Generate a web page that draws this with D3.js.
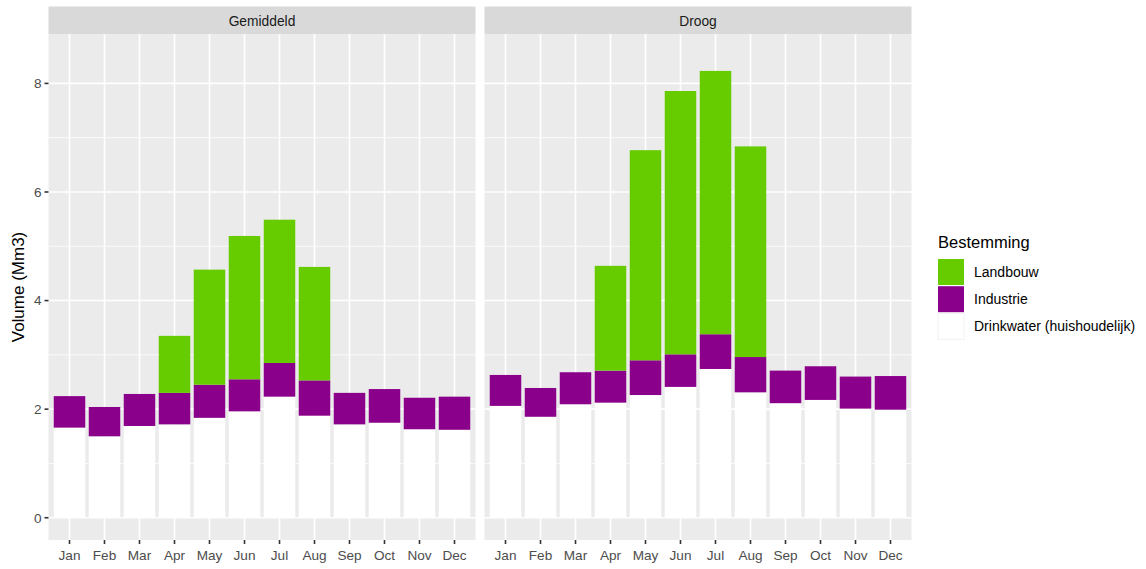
<!DOCTYPE html>
<html>
<head>
<meta charset="utf-8">
<script src="https://cdn.jsdelivr.net/npm/d3@7"></script>
<style>
  body { margin: 0; background: #fff; }
  svg { display: block; font-family: 'Liberation Sans', Arial, sans-serif; }
</style>
</head>
<body>
<svg id="chart"></svg>
<script>
const months = ['Jan', 'Feb', 'Mar', 'Apr', 'May', 'Jun', 'Jul', 'Aug', 'Sep', 'Oct', 'Nov', 'Dec']
const scenarios = ['Gemiddeld', 'Droog']
const categories = ['Drinkwater (huishoudelijk)', 'Industrie', 'Landbouw']
const legendOrder = ['Landbouw', 'Industrie', 'Drinkwater (huishoudelijk)']

// Gemiddeld
const gemDrinkwater = [1.66, 1.50, 1.69, 1.72, 1.84, 1.96, 2.23, 1.88, 1.72, 1.75, 1.63, 1.62]
const gemIndustrie = [0.58, 0.54, 0.59, 0.58, 0.61, 0.59, 0.62, 0.65, 0.58, 0.62, 0.58, 0.61]
const gemLandbouw = [0, 0, 0, 1.05, 2.12, 2.64, 2.64, 2.09, 0, 0, 0, 0]

// Droog
const droogDrinkwater = [2.06, 1.86, 2.09, 2.12, 2.26, 2.41, 2.74, 2.31, 2.11, 2.17, 2.01, 1.99]
const droogIndustrie = [0.57, 0.53, 0.59, 0.59, 0.64, 0.60, 0.64, 0.65, 0.60, 0.62, 0.59, 0.62]
const droogLandbouw = [0, 0, 0, 1.93, 3.87, 4.85, 4.85, 3.88, 0, 0, 0, 0]

const yTicks = [0, 2, 4, 6, 8]
const yMinor = [1, 3, 5, 7]

const colors = {
    'Landbouw': '#66CC00',
    'Industrie': '#8B008B',
    'Drinkwater (huishoudelijk)': '#FFFFFF'
}

const series = {
    Gemiddeld: [gemDrinkwater, gemIndustrie, gemLandbouw],
    Droog: [droogDrinkwater, droogIndustrie, droogLandbouw]
}

const width = 1146
const height = 569
const panelTop = 34
const panelBottom = 540
const stripTop = 6.5
const panels = [
    { name: scenarios[0], x0: 48.5, x1: 475.5 },
    { name: scenarios[1], x0: 484.5, x1: 911.5 }
]

const svg = d3.select('#chart').attr('width', width).attr('height', height)

const y = d3.scaleLinear().domain([-0.41, 8.91]).range([panelBottom, panelTop])

panels.forEach((p) => {
    const rows = months.map((m, i) => {
        const row = { month: m }
        categories.forEach((c, k) => { row[c] = series[p.name][k][i] })
        return row
    })
    const stacked = d3.stack().keys(categories)(rows)

    // ggplot-like discrete axis: 0.6 unit expansion each side, bars 0.9 wide
    const x = d3.scaleBand()
        .domain(months)
        .range([p.x0, p.x1])
        .paddingInner(0)
        .paddingOuter(0.1)
    const cx = (m) => x(m) + x.bandwidth() / 2
    const bw = x.bandwidth() * 0.9

    const g = svg.append('g')

    // panel background
    g.append('rect')
        .attr('x', p.x0).attr('y', panelTop)
        .attr('width', p.x1 - p.x0).attr('height', panelBottom - panelTop)
        .attr('fill', '#EBEBEB')

    // minor grid
    g.selectAll('.minor').data(yMinor).enter().append('line')
        .attr('x1', p.x0).attr('x2', p.x1)
        .attr('y1', (d) => y(d)).attr('y2', (d) => y(d))
        .attr('stroke', '#fff').attr('stroke-width', 0.8)

    // major grid
    g.selectAll('.major').data(yTicks).enter().append('line')
        .attr('x1', p.x0).attr('x2', p.x1)
        .attr('y1', (d) => y(d)).attr('y2', (d) => y(d))
        .attr('stroke', '#fff').attr('stroke-width', 1.6)

    g.selectAll('.vgrid').data(months).enter().append('line')
        .attr('x1', (d) => cx(d)).attr('x2', (d) => cx(d))
        .attr('y1', panelTop).attr('y2', panelBottom)
        .attr('stroke', '#fff').attr('stroke-width', 1.6)

    // bars
    stacked.forEach((layer) => {
        g.selectAll(null).data(layer).enter().append('rect')
            .attr('x', (d) => cx(d.data.month) - bw / 2)
            .attr('width', bw)
            .attr('y', (d) => y(d[1]))
            .attr('height', (d) => Math.max(0, y(d[0]) - y(d[1])))
            .attr('fill', colors[layer.key])
    })

    // strip
    g.append('rect')
        .attr('x', p.x0).attr('y', stripTop)
        .attr('width', p.x1 - p.x0).attr('height', panelTop - stripTop)
        .attr('fill', '#D9D9D9')
    g.append('text')
        .attr('x', (p.x0 + p.x1) / 2).attr('y', (stripTop + panelTop) / 2 + 0.5)
        .attr('dy', '0.35em')
        .attr('text-anchor', 'middle')
        .attr('font-size', 13.8)
        .attr('fill', '#1A1A1A')
        .text(p.name)

    // x axis
    const xa = svg.append('g')
    xa.selectAll('line').data(months).enter().append('line')
        .attr('x1', (d) => cx(d)).attr('x2', (d) => cx(d))
        .attr('y1', panelBottom).attr('y2', panelBottom + 4)
        .attr('stroke', '#333').attr('stroke-width', 1.6)
    xa.selectAll('text').data(months).enter().append('text')
        .attr('x', (d) => cx(d)).attr('y', panelBottom + 15)
        .attr('dy', '0.35em')
        .attr('text-anchor', 'middle')
        .attr('font-size', 13.6)
        .attr('fill', '#4D4D4D')
        .text((d) => d)
})

// y axis (left panel only)
const ya = svg.append('g')
ya.selectAll('line').data(yTicks).enter().append('line')
    .attr('x1', panels[0].x0 - 4).attr('x2', panels[0].x0)
    .attr('y1', (d) => y(d)).attr('y2', (d) => y(d))
    .attr('stroke', '#333').attr('stroke-width', 1.6)
ya.selectAll('text').data(yTicks).enter().append('text')
    .attr('x', panels[0].x0 - 7).attr('y', (d) => y(d))
    .attr('dy', '0.35em')
    .attr('text-anchor', 'end')
    .attr('font-size', 13.6)
    .attr('fill', '#4D4D4D')
    .text((d) => d)

svg.append('text')
    .attr('transform', `translate(24,${(panelTop + panelBottom) / 2}) rotate(-90)`)
    .attr('text-anchor', 'middle')
    .attr('font-size', 17)
    .attr('fill', '#000')
    .text('Volume (Mm3)')

// legend
const lg = svg.append('g').attr('transform', 'translate(938,0)')
lg.append('text')
    .attr('x', 0).attr('y', 248)
    .attr('font-size', 16.5)
    .attr('fill', '#000')
    .text('Bestemming')
legendOrder.forEach((c, i) => {
    const ky = 259 + i * 27.2
    lg.append('rect')
        .attr('x', 0).attr('y', ky)
        .attr('width', 26).attr('height', 26)
        .attr('fill', colors[c])
        .attr('stroke', c === 'Drinkwater (huishoudelijk)' ? '#F2F2F2' : 'none')
    lg.append('text')
        .attr('x', 36).attr('y', ky + 13)
        .attr('dy', '0.35em')
        .attr('font-size', 14)
        .attr('fill', '#000')
        .text(c)
})
</script>
</body>
</html>
